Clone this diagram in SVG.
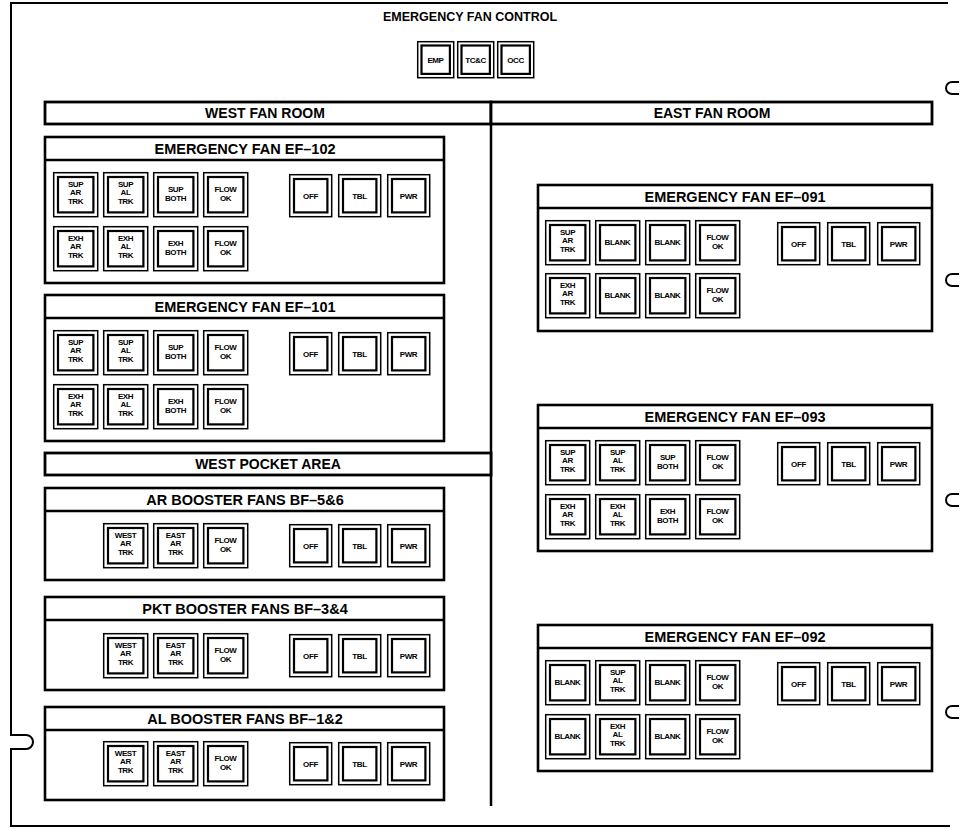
<svg xmlns="http://www.w3.org/2000/svg" width="960" height="829" viewBox="0 0 960 829">
<style>
.frame{fill:none;stroke:#000;stroke-width:2}
.pnl{fill:#fff;stroke:#000;stroke-width:2.6}
.bar{fill:#fff;stroke:#000;stroke-width:2.8}
.div{fill:none;stroke:#000;stroke-width:2.5}
.bo{fill:#fff;stroke:#000;stroke-width:1.5}
.bi{fill:#fff;stroke:#000;stroke-width:2.2}
.ttl{font-family:"Liberation Sans",Arial,sans-serif;font-weight:bold;font-size:12.5px;text-anchor:middle;fill:#000}
.hd{font-family:"Liberation Sans",Arial,sans-serif;font-weight:bold;font-size:14.5px;text-anchor:middle;fill:#000}
.bh{font-family:"Liberation Sans",Arial,sans-serif;font-weight:bold;font-size:14px;text-anchor:middle;fill:#000}
.bt{font-family:"Liberation Sans",Arial,sans-serif;font-weight:bold;font-size:8px;text-anchor:middle;fill:#000;letter-spacing:-0.4px}
</style>
<defs>
<g id="f45"><rect class="bo" x="0.7" y="0.7" width="44" height="44"/><rect class="bi" x="5" y="5" width="35.4" height="35.4"/></g>
<g id="f43"><rect class="bo" x="0.7" y="0.7" width="42" height="42"/><rect class="bi" x="5" y="5" width="33.4" height="33.4"/></g>
<g id="f37"><rect class="bo" x="0.7" y="0.7" width="36" height="36"/><rect class="bi" x="4.5" y="4.5" width="28.4" height="28.4"/></g>
<path id="cl" d="M 959 0 H 952 A 6 6 0 0 0 952 12 H 959" fill="none" stroke="#000" stroke-width="2"/>
</defs>
<rect x="0" y="0" width="960" height="829" fill="#fff"/>

<g id="outer-frame">
<path class="frame" d="M 948 3 H 11 V 735 H 26 A 7 7 0 0 1 26 749 H 11 V 826 H 950"/>
<use href="#cl" y="82"/>
<use href="#cl" y="274"/>
<use href="#cl" y="494"/>
<use href="#cl" y="706"/>
</g>

<g id="title">
<text class="ttl" x="470" y="21">EMERGENCY FAN CONTROL</text>
<g id="btn-emp" transform="translate(417,41)"><use href="#f37"/><text class="bt" x="18.5" y="21.5">EMP</text></g>
<g id="btn-tcc" transform="translate(457,41)"><use href="#f37"/><text class="bt" x="18.5" y="21.5">TC&amp;C</text></g>
<g id="btn-occ" transform="translate(497,41)"><use href="#f37"/><text class="bt" x="18.5" y="21.5">OCC</text></g>
</g>

<g id="connectors">
<line class="div" x1="491" y1="102" x2="491" y2="806"/>
</g>

<g id="west-fan-room">
<rect class="bar" x="45" y="102" width="446" height="22"/>
<text class="bh" x="265" y="118">WEST FAN ROOM</text>
</g>
<g id="east-fan-room">
<rect class="bar" x="491" y="102" width="441" height="22"/>
<text class="bh" x="712" y="118">EAST FAN ROOM</text>
</g>
<g id="west-pocket-area">
<rect class="bar" x="45" y="453" width="446" height="22"/>
<text class="bh" x="268" y="469">WEST POCKET AREA</text>
</g>

<!-- EF-102 -->
<g id="ef-102">
<rect class="pnl" x="45" y="137" width="399" height="146"/>
<line class="pnl" x1="45" y1="160" x2="444" y2="160"/>
<text class="hd" x="245" y="154">EMERGENCY FAN EF–102</text>
<g transform="translate(53,172)"><use href="#f45"/><text class="bt" x="22.5" y="15">SUP</text><text class="bt" x="22.5" y="23">AR</text><text class="bt" x="22.5" y="32">TRK</text></g>
<g transform="translate(103,172)"><use href="#f45"/><text class="bt" x="22.5" y="15">SUP</text><text class="bt" x="22.5" y="23">AL</text><text class="bt" x="22.5" y="32">TRK</text></g>
<g transform="translate(153,172)"><use href="#f45"/><text class="bt" x="22.5" y="20">SUP</text><text class="bt" x="22.5" y="29">BOTH</text></g>
<g transform="translate(203,172)"><use href="#f45"/><text class="bt" x="22.5" y="20">FLOW</text><text class="bt" x="22.5" y="29">OK</text></g>
<g transform="translate(53,226)"><use href="#f45"/><text class="bt" x="22.5" y="15">EXH</text><text class="bt" x="22.5" y="23">AR</text><text class="bt" x="22.5" y="32">TRK</text></g>
<g transform="translate(103,226)"><use href="#f45"/><text class="bt" x="22.5" y="15">EXH</text><text class="bt" x="22.5" y="23">AL</text><text class="bt" x="22.5" y="32">TRK</text></g>
<g transform="translate(153,226)"><use href="#f45"/><text class="bt" x="22.5" y="20">EXH</text><text class="bt" x="22.5" y="29">BOTH</text></g>
<g transform="translate(203,226)"><use href="#f45"/><text class="bt" x="22.5" y="20">FLOW</text><text class="bt" x="22.5" y="29">OK</text></g>
<g transform="translate(289,174)"><use href="#f43"/><text class="bt" x="21.5" y="24.5">OFF</text></g>
<g transform="translate(338,174)"><use href="#f43"/><text class="bt" x="21.5" y="24.5">TBL</text></g>
<g transform="translate(387,174)"><use href="#f43"/><text class="bt" x="21.5" y="24.5">PWR</text></g>
</g>

<!-- EF-101 -->
<g id="ef-101">
<rect class="pnl" x="45" y="295" width="399" height="146"/>
<line class="pnl" x1="45" y1="318" x2="444" y2="318"/>
<text class="hd" x="245" y="312">EMERGENCY FAN EF–101</text>
<g transform="translate(53,330)"><use href="#f45"/><text class="bt" x="22.5" y="15">SUP</text><text class="bt" x="22.5" y="23">AR</text><text class="bt" x="22.5" y="32">TRK</text></g>
<g transform="translate(103,330)"><use href="#f45"/><text class="bt" x="22.5" y="15">SUP</text><text class="bt" x="22.5" y="23">AL</text><text class="bt" x="22.5" y="32">TRK</text></g>
<g transform="translate(153,330)"><use href="#f45"/><text class="bt" x="22.5" y="20">SUP</text><text class="bt" x="22.5" y="29">BOTH</text></g>
<g transform="translate(203,330)"><use href="#f45"/><text class="bt" x="22.5" y="20">FLOW</text><text class="bt" x="22.5" y="29">OK</text></g>
<g transform="translate(53,384)"><use href="#f45"/><text class="bt" x="22.5" y="15">EXH</text><text class="bt" x="22.5" y="23">AR</text><text class="bt" x="22.5" y="32">TRK</text></g>
<g transform="translate(103,384)"><use href="#f45"/><text class="bt" x="22.5" y="15">EXH</text><text class="bt" x="22.5" y="23">AL</text><text class="bt" x="22.5" y="32">TRK</text></g>
<g transform="translate(153,384)"><use href="#f45"/><text class="bt" x="22.5" y="20">EXH</text><text class="bt" x="22.5" y="29">BOTH</text></g>
<g transform="translate(203,384)"><use href="#f45"/><text class="bt" x="22.5" y="20">FLOW</text><text class="bt" x="22.5" y="29">OK</text></g>
<g transform="translate(289,332)"><use href="#f43"/><text class="bt" x="21.5" y="24.5">OFF</text></g>
<g transform="translate(338,332)"><use href="#f43"/><text class="bt" x="21.5" y="24.5">TBL</text></g>
<g transform="translate(387,332)"><use href="#f43"/><text class="bt" x="21.5" y="24.5">PWR</text></g>
</g>

<!-- AR BOOSTER -->
<g id="bf-5-6">
<rect class="pnl" x="45" y="488" width="399" height="92"/>
<line class="pnl" x1="45" y1="511" x2="444" y2="511"/>
<text class="hd" x="245" y="505">AR BOOSTER FANS BF–5&amp;6</text>
<g transform="translate(103,523)"><use href="#f45"/><text class="bt" x="22.5" y="15">WEST</text><text class="bt" x="22.5" y="23">AR</text><text class="bt" x="22.5" y="32">TRK</text></g>
<g transform="translate(153,523)"><use href="#f45"/><text class="bt" x="22.5" y="15">EAST</text><text class="bt" x="22.5" y="23">AR</text><text class="bt" x="22.5" y="32">TRK</text></g>
<g transform="translate(203,523)"><use href="#f45"/><text class="bt" x="22.5" y="20">FLOW</text><text class="bt" x="22.5" y="29">OK</text></g>
<g transform="translate(289,524)"><use href="#f43"/><text class="bt" x="21.5" y="24.5">OFF</text></g>
<g transform="translate(338,524)"><use href="#f43"/><text class="bt" x="21.5" y="24.5">TBL</text></g>
<g transform="translate(387,524)"><use href="#f43"/><text class="bt" x="21.5" y="24.5">PWR</text></g>
</g>

<!-- PKT BOOSTER -->
<g id="bf-3-4">
<rect class="pnl" x="45" y="597" width="399" height="93"/>
<line class="pnl" x1="45" y1="620" x2="444" y2="620"/>
<text class="hd" x="245" y="614">PKT BOOSTER FANS BF–3&amp;4</text>
<g transform="translate(103,633)"><use href="#f45"/><text class="bt" x="22.5" y="15">WEST</text><text class="bt" x="22.5" y="23">AR</text><text class="bt" x="22.5" y="32">TRK</text></g>
<g transform="translate(153,633)"><use href="#f45"/><text class="bt" x="22.5" y="15">EAST</text><text class="bt" x="22.5" y="23">AR</text><text class="bt" x="22.5" y="32">TRK</text></g>
<g transform="translate(203,633)"><use href="#f45"/><text class="bt" x="22.5" y="20">FLOW</text><text class="bt" x="22.5" y="29">OK</text></g>
<g transform="translate(289,634)"><use href="#f43"/><text class="bt" x="21.5" y="24.5">OFF</text></g>
<g transform="translate(338,634)"><use href="#f43"/><text class="bt" x="21.5" y="24.5">TBL</text></g>
<g transform="translate(387,634)"><use href="#f43"/><text class="bt" x="21.5" y="24.5">PWR</text></g>
</g>

<!-- AL BOOSTER -->
<g id="bf-1-2">
<rect class="pnl" x="45" y="707" width="399" height="93"/>
<line class="pnl" x1="45" y1="730" x2="444" y2="730"/>
<text class="hd" x="245" y="724">AL BOOSTER FANS BF–1&amp;2</text>
<g transform="translate(103,741)"><use href="#f45"/><text class="bt" x="22.5" y="15">WEST</text><text class="bt" x="22.5" y="23">AR</text><text class="bt" x="22.5" y="32">TRK</text></g>
<g transform="translate(153,741)"><use href="#f45"/><text class="bt" x="22.5" y="15">EAST</text><text class="bt" x="22.5" y="23">AR</text><text class="bt" x="22.5" y="32">TRK</text></g>
<g transform="translate(203,741)"><use href="#f45"/><text class="bt" x="22.5" y="20">FLOW</text><text class="bt" x="22.5" y="29">OK</text></g>
<g transform="translate(289,742)"><use href="#f43"/><text class="bt" x="21.5" y="24.5">OFF</text></g>
<g transform="translate(338,742)"><use href="#f43"/><text class="bt" x="21.5" y="24.5">TBL</text></g>
<g transform="translate(387,742)"><use href="#f43"/><text class="bt" x="21.5" y="24.5">PWR</text></g>
</g>

<!-- EF-091 -->
<g id="ef-091">
<rect class="pnl" x="538" y="185" width="394" height="146"/>
<line class="pnl" x1="538" y1="208" x2="932" y2="208"/>
<text class="hd" x="735" y="202">EMERGENCY FAN EF–091</text>
<g transform="translate(545,220)"><use href="#f45"/><text class="bt" x="22.5" y="15">SUP</text><text class="bt" x="22.5" y="23">AR</text><text class="bt" x="22.5" y="32">TRK</text></g>
<g transform="translate(595,220)"><use href="#f45"/><text class="bt" x="22.5" y="25">BLANK</text></g>
<g transform="translate(645,220)"><use href="#f45"/><text class="bt" x="22.5" y="25">BLANK</text></g>
<g transform="translate(695,220)"><use href="#f45"/><text class="bt" x="22.5" y="20">FLOW</text><text class="bt" x="22.5" y="29">OK</text></g>
<g transform="translate(545,273)"><use href="#f45"/><text class="bt" x="22.5" y="15">EXH</text><text class="bt" x="22.5" y="23">AR</text><text class="bt" x="22.5" y="32">TRK</text></g>
<g transform="translate(595,273)"><use href="#f45"/><text class="bt" x="22.5" y="25">BLANK</text></g>
<g transform="translate(645,273)"><use href="#f45"/><text class="bt" x="22.5" y="25">BLANK</text></g>
<g transform="translate(695,273)"><use href="#f45"/><text class="bt" x="22.5" y="20">FLOW</text><text class="bt" x="22.5" y="29">OK</text></g>
<g transform="translate(777,222)"><use href="#f43"/><text class="bt" x="21.5" y="24.5">OFF</text></g>
<g transform="translate(827,222)"><use href="#f43"/><text class="bt" x="21.5" y="24.5">TBL</text></g>
<g transform="translate(877,222)"><use href="#f43"/><text class="bt" x="21.5" y="24.5">PWR</text></g>
</g>

<!-- EF-093 -->
<g id="ef-093">
<rect class="pnl" x="538" y="405" width="394" height="146"/>
<line class="pnl" x1="538" y1="428" x2="932" y2="428"/>
<text class="hd" x="735" y="422">EMERGENCY FAN EF–093</text>
<g transform="translate(545,440)"><use href="#f45"/><text class="bt" x="22.5" y="15">SUP</text><text class="bt" x="22.5" y="23">AR</text><text class="bt" x="22.5" y="32">TRK</text></g>
<g transform="translate(595,440)"><use href="#f45"/><text class="bt" x="22.5" y="15">SUP</text><text class="bt" x="22.5" y="23">AL</text><text class="bt" x="22.5" y="32">TRK</text></g>
<g transform="translate(645,440)"><use href="#f45"/><text class="bt" x="22.5" y="20">SUP</text><text class="bt" x="22.5" y="29">BOTH</text></g>
<g transform="translate(695,440)"><use href="#f45"/><text class="bt" x="22.5" y="20">FLOW</text><text class="bt" x="22.5" y="29">OK</text></g>
<g transform="translate(545,494)"><use href="#f45"/><text class="bt" x="22.5" y="15">EXH</text><text class="bt" x="22.5" y="23">AR</text><text class="bt" x="22.5" y="32">TRK</text></g>
<g transform="translate(595,494)"><use href="#f45"/><text class="bt" x="22.5" y="15">EXH</text><text class="bt" x="22.5" y="23">AL</text><text class="bt" x="22.5" y="32">TRK</text></g>
<g transform="translate(645,494)"><use href="#f45"/><text class="bt" x="22.5" y="20">EXH</text><text class="bt" x="22.5" y="29">BOTH</text></g>
<g transform="translate(695,494)"><use href="#f45"/><text class="bt" x="22.5" y="20">FLOW</text><text class="bt" x="22.5" y="29">OK</text></g>
<g transform="translate(777,442)"><use href="#f43"/><text class="bt" x="21.5" y="24.5">OFF</text></g>
<g transform="translate(827,442)"><use href="#f43"/><text class="bt" x="21.5" y="24.5">TBL</text></g>
<g transform="translate(877,442)"><use href="#f43"/><text class="bt" x="21.5" y="24.5">PWR</text></g>
</g>

<!-- EF-092 -->
<g id="ef-092">
<rect class="pnl" x="538" y="625" width="394" height="146"/>
<line class="pnl" x1="538" y1="648" x2="932" y2="648"/>
<text class="hd" x="735" y="642">EMERGENCY FAN EF–092</text>
<g transform="translate(545,660)"><use href="#f45"/><text class="bt" x="22.5" y="25">BLANK</text></g>
<g transform="translate(595,660)"><use href="#f45"/><text class="bt" x="22.5" y="15">SUP</text><text class="bt" x="22.5" y="23">AL</text><text class="bt" x="22.5" y="32">TRK</text></g>
<g transform="translate(645,660)"><use href="#f45"/><text class="bt" x="22.5" y="25">BLANK</text></g>
<g transform="translate(695,660)"><use href="#f45"/><text class="bt" x="22.5" y="20">FLOW</text><text class="bt" x="22.5" y="29">OK</text></g>
<g transform="translate(545,714)"><use href="#f45"/><text class="bt" x="22.5" y="25">BLANK</text></g>
<g transform="translate(595,714)"><use href="#f45"/><text class="bt" x="22.5" y="15">EXH</text><text class="bt" x="22.5" y="23">AL</text><text class="bt" x="22.5" y="32">TRK</text></g>
<g transform="translate(645,714)"><use href="#f45"/><text class="bt" x="22.5" y="25">BLANK</text></g>
<g transform="translate(695,714)"><use href="#f45"/><text class="bt" x="22.5" y="20">FLOW</text><text class="bt" x="22.5" y="29">OK</text></g>
<g transform="translate(777,662)"><use href="#f43"/><text class="bt" x="21.5" y="24.5">OFF</text></g>
<g transform="translate(827,662)"><use href="#f43"/><text class="bt" x="21.5" y="24.5">TBL</text></g>
<g transform="translate(877,662)"><use href="#f43"/><text class="bt" x="21.5" y="24.5">PWR</text></g>
</g>
</svg>
